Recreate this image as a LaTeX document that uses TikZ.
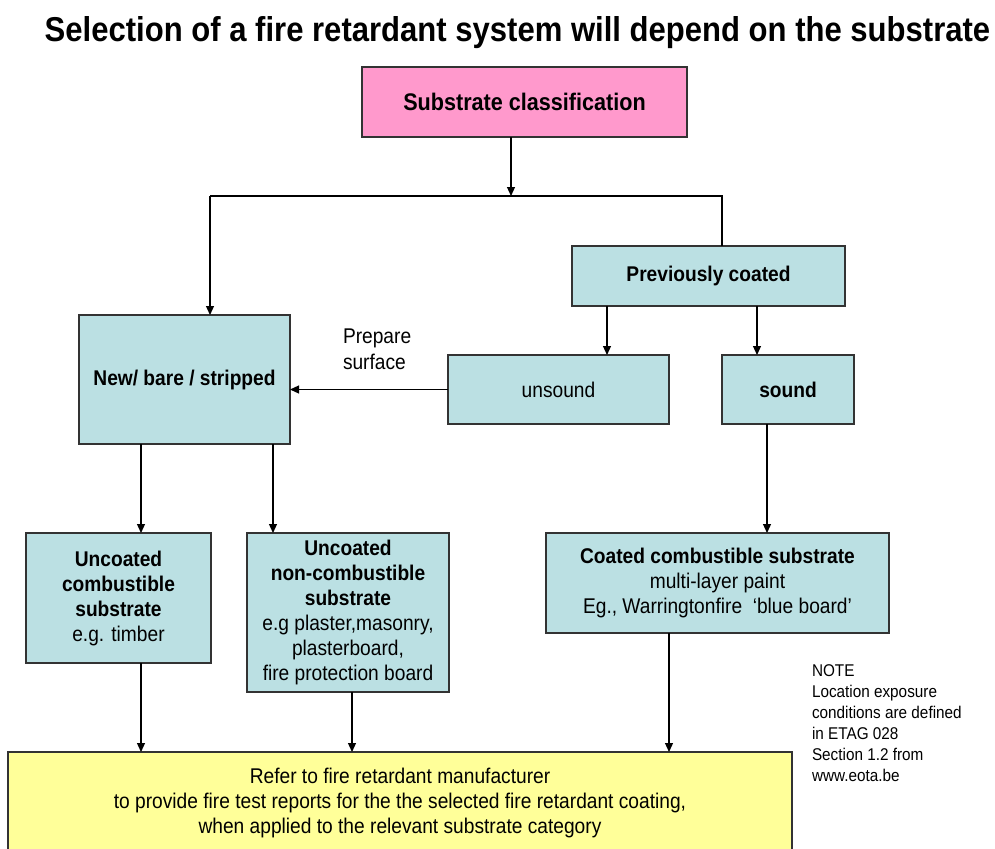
\documentclass[tikz,border=0pt]{standalone}
\usepackage{fontspec}
\setmainfont{Liberation Sans}[FakeStretch=0.9]
\usetikzlibrary{arrows.meta,calc}
\definecolor{pinkbox}{HTML}{FF99CC}
\definecolor{tealbox}{HTML}{BBE0E3}
\definecolor{yellowbox}{HTML}{FFFF99}
\definecolor{edgegray}{HTML}{333333}
\begin{document}
\begin{tikzpicture}[x=1pt,y=-1pt,
  every node/.style={inner sep=0pt, outer sep=0pt},
  boxs/.style={draw=edgegray, line width=1.2pt, align=center, font=\fontsize{21.3}{25}\selectfont},
  teal/.style={boxs, fill=tealbox},
  arr/.style={line width=1.2pt, -{Triangle[length=9pt,width=8pt]}},
  ln/.style={line width=1.2pt}]
\useasboundingbox (0,0) rectangle (995,848);
% title
\node[anchor=base, font=\fontsize{34.5}{40}\selectfont\bfseries] (title) at (517.5,42)
  {Selection of a fire retardant system will depend on the substrate};
% boxes
\node[boxs, fill=pinkbox, minimum width=325, minimum height=70, font=\fontsize{24}{28}\selectfont\bfseries] (pink) at (524.5,102) {Substrate classification};
\node[teal, minimum width=211, minimum height=129, font=\fontsize{21.3}{25}\selectfont\bfseries] (newb) at (184.5,379.5) {\raisebox{-4pt}{New/ bare / stripped}};
\node[teal, minimum width=273, minimum height=60, font=\fontsize{21.3}{25}\selectfont\bfseries] (prev) at (708.5,276) {\raisebox{-3pt}{Previously coated}};
\node[teal, minimum width=221, minimum height=69] (unsound) at (558.5,389.5) {\raisebox{-2pt}{unsound}};
\node[teal, minimum width=132, minimum height=69, font=\fontsize{21.3}{25}\selectfont\bfseries] (sound) at (788,389.5) {\raisebox{-2pt}{sound}};
\node[teal, minimum width=185, minimum height=130] (ucomb) at (118.5,598)
  {\textbf{Uncoated}\\\textbf{combustible}\\\textbf{substrate}\\e.g. timber};
\node[teal, minimum width=202, minimum height=159] (unon) at (348,612.5)
  {\textbf{Uncoated}\\\textbf{non-combustible}\\\textbf{substrate}\\e.g plaster,masonry,\\plasterboard,\\fire protection board};
\node[teal, minimum width=343, minimum height=100] (coated) at (717.5,583)
  {\textbf{Coated combustible substrate}\\multi-layer paint\\Eg., Warringtonfire\ \ `blue board'\rule[-4pt]{0pt}{1pt}};
\node[boxs, fill=yellowbox, minimum width=784, minimum height=102, anchor=north] (yel) at (400,752)
  {Refer to fire retardant manufacturer\\to provide fire test reports for the the selected fire retardant coating,\\when applied to the relevant substrate category};
% labels
\node[anchor=west, align=left, font=\fontsize{21.3}{26}\selectfont] (prep) at (343,349) {Prepare\\surface};
\node[anchor=north west, align=left, font=\fontsize{17}{21}\selectfont] (note) at (812,664.5)
  {NOTE\\Location exposure\\conditions are defined\\in ETAG 028\\Section 1.2 from\\www.eota.be};
% junction and start coordinates
\coordinate (jc) at (511,196);
\coordinate (jl) at (210,196);
\coordinate (jr) at (722,196);
\coordinate (p1) at (607,306);
\coordinate (p2) at (757,306);
\coordinate (n1) at (141,444);
\coordinate (n2) at (273,444);
\coordinate (s1) at (767,424);
\coordinate (b1) at (141,663);
\coordinate (b2) at (352,692);
\coordinate (b3) at (669,633);
% connectors
\draw[arr] (pink.south -| jc) -- (jc);
\draw[ln] (jl) -- (jr) -- (jr |- prev.north);
\draw[arr] (jl) -- (jl |- newb.north);
\draw[arr] (p1) -- (p1 |- unsound.north);
\draw[arr] (p2) -- (p2 |- sound.north);
\draw[arr] (unsound.west) -- (unsound.west -| newb.east);
\draw[arr] (n1) -- (n1 |- ucomb.north);
\draw[arr] (n2) -- (n2 |- unon.north);
\draw[arr] (s1) -- (s1 |- coated.north);
\draw[arr] (b1) -- (b1 |- yel.north);
\draw[arr] (b2) -- (b2 |- yel.north);
\draw[arr] (b3) -- (b3 |- yel.north);
\end{tikzpicture}
\end{document}
